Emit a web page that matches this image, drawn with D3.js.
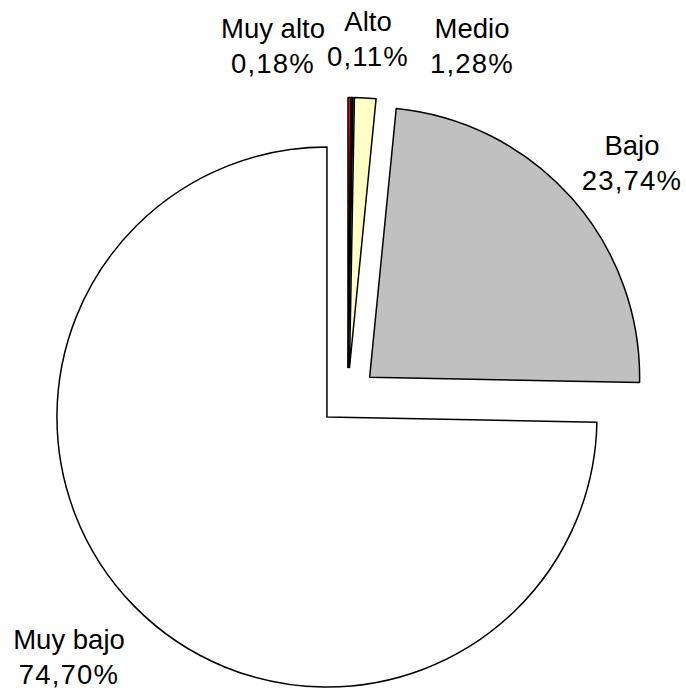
<!DOCTYPE html>
<html>
<head>
<meta charset="utf-8">
<script src="https://cdn.jsdelivr.net/npm/d3@7"></script>
<style>
  html, body { margin: 0; padding: 0; background: #fff; }
  svg { display: block; }
</style>
</head>
<body>
<svg id="chart" width="686" height="690"></svg>
<script>
// ---- data ----
const categories = ["Muy alto", "Alto", "Medio", "Bajo", "Muy bajo"];
const values = [0.18, 0.11, 1.28, 23.74, 74.70];
const valueLabels = ["0,18%", "0,11%", "1,28%", "23,74%", "74,70%"];
const colors = ["#FF0000", "#1a0000", "#FFFFC6", "#C0C0C0", "#FFFFFF"];

// ---- layout (not data) ----
const W = 686, H = 690;
const cx = 347.8, cy = 396.6, R = 270, explode = 29.2;
// label anchor points (center x, first baseline y)
const labelAnchors = [[273, 38], [368, 31], [472, 38], [632, 155], [69, 649]];
const lineGap = 35;

const svg = d3.select("#chart");
const pie = d3.pie().sort(null).value(d => d)(values);
const arc = d3.arc().innerRadius(0).outerRadius(R);

const g = svg.append("g").attr("transform", `translate(${cx},${cy})`);

g.selectAll("path.slice")
  .data(pie)
  .join("path")
  .attr("class", "slice")
  .attr("d", arc)
  .attr("fill", (d, i) => colors[i])
  .attr("stroke", "#000")
  .attr("stroke-width", 1.5)
  .attr("stroke-linejoin", "round")
  .attr("transform", d => {
    const m = (d.startAngle + d.endAngle) / 2;
    return `translate(${Math.sin(m) * explode},${-Math.cos(m) * explode})`;
  });

const labels = svg.selectAll("text.lbl")
  .data(pie)
  .join("text")
  .attr("class", "lbl")
  .attr("text-anchor", "middle")
  .attr("font-family", "Liberation Sans, Arial, sans-serif")
  .attr("font-size", 27.5)
  .attr("fill", "#000");

labels.append("tspan")
  .attr("x", (d, i) => labelAnchors[i][0])
  .attr("y", (d, i) => labelAnchors[i][1])
  .text((d, i) => categories[i]);
labels.append("tspan")
  .attr("x", (d, i) => labelAnchors[i][0])
  .attr("y", (d, i) => labelAnchors[i][1] + lineGap)
  .attr("letter-spacing", 1.2)
  .text((d, i) => valueLabels[i]);
</script>
</body>
</html>
